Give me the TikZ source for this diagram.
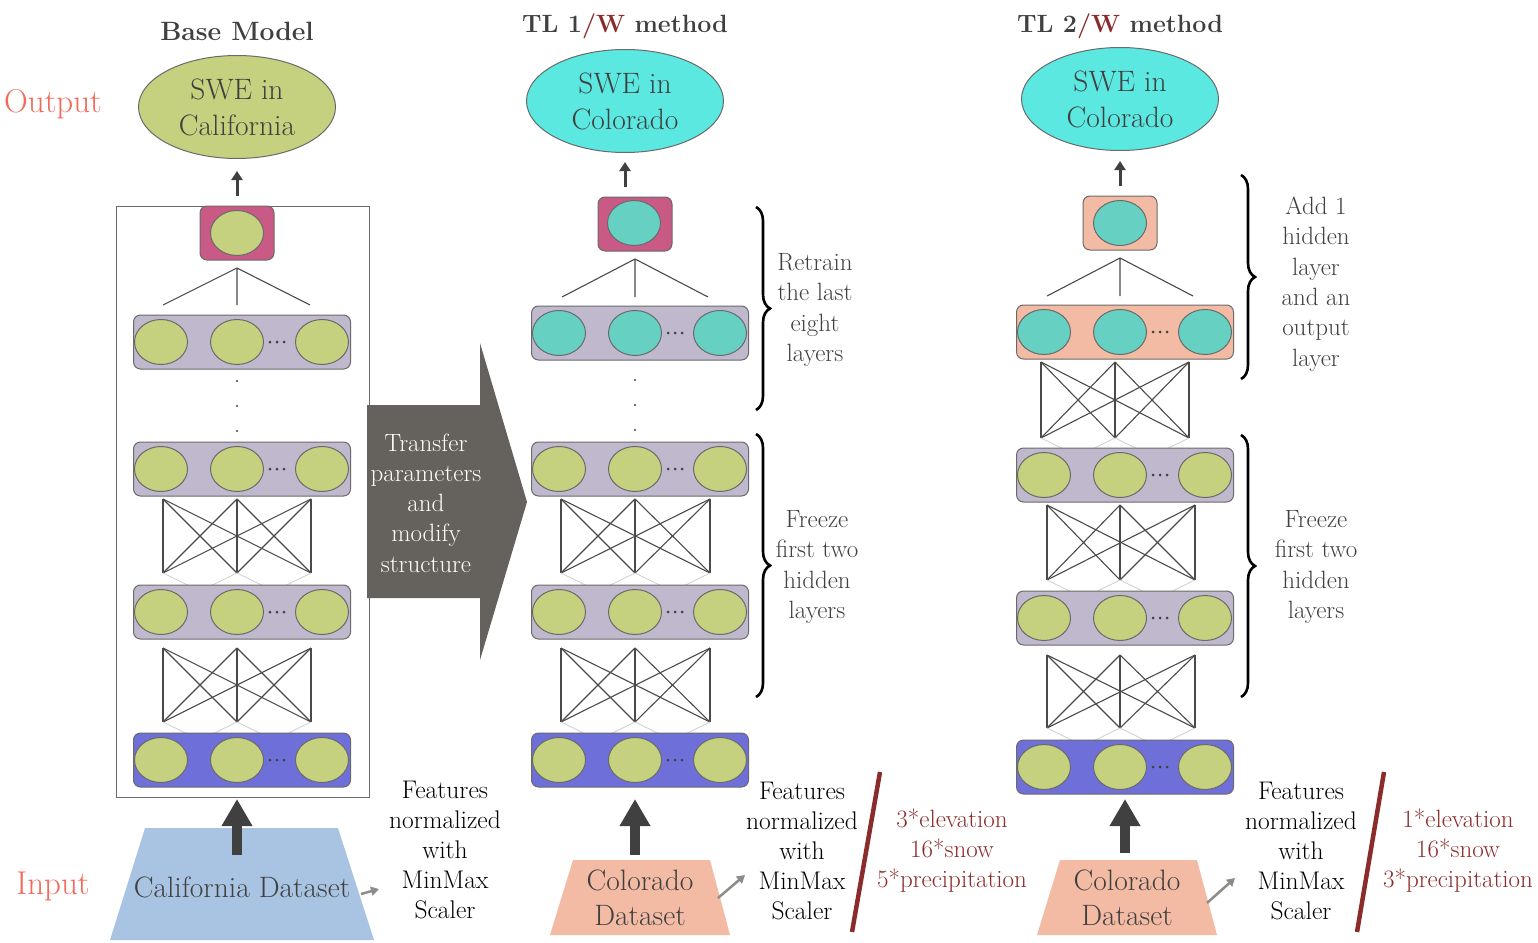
\documentclass[tikz,border=0pt]{standalone}
\usetikzlibrary{arrows.meta,shapes.geometric,decorations.pathreplacing,calc}
\definecolor{nngreen}{HTML}{C5D17E}
\definecolor{nnpurple}{HTML}{C0B8CD}
\definecolor{nnpink}{HTML}{C85A85}
\definecolor{nnblue}{HTML}{6F6FD9}
\definecolor{nnteal}{HTML}{66D1C2}
\definecolor{nncyan}{HTML}{5BE8E1}
\definecolor{nnsalmon}{HTML}{F3BBA4}
\definecolor{trapblue}{HTML}{A8C4E2}
\definecolor{textgray}{HTML}{404040}
\definecolor{edgegray}{HTML}{6A6A6A}
\definecolor{wiregray}{HTML}{4A4A4A}
\definecolor{transfergray}{HTML}{65625E}
\definecolor{outlabel}{HTML}{F26A5B}
\definecolor{darkred}{HTML}{8B2C2C}
\definecolor{smallgray}{HTML}{8C8C88}

\newcommand{\nnlayer}[5]{%
  \node[layerbox, fill=#4] (#1) at ({#2+5},#3) {};
  \node[neuron, fill=#5] (#1-a) at ({#2-76},#3) {};
  \node[neuron, fill=#5] (#1-b) at (#2,#3) {};
  \node[neuron, fill=#5] (#1-c) at ({#2+85},#3) {};
  \fill[textgray] ({#2+33},#3) circle[radius=1.5pt] ({#2+40},#3) circle[radius=1.5pt] ({#2+47},#3) circle[radius=1.5pt];
}
\newcommand{\nncross}[6]{%
  \coordinate (#1-t1) at (#2,#5); \coordinate (#1-t2) at (#3,#5); \coordinate (#1-t3) at (#4,#5);
  \coordinate (#1-b1) at (#2,#6); \coordinate (#1-b2) at (#3,#6); \coordinate (#1-b3) at (#4,#6);
  \foreach \i in {1,2,3}{\foreach \j in {1,2,3}{\draw[wire] (#1-t\i) -- (#1-b\j);}}
  \draw[faint] (#1-b1) -- ++(45,22) (#1-b2) -- ++(-45,22) (#1-b2) -- ++(45,22) (#1-b3) -- ++(-45,22);
}
\newcommand{\nnfan}[6]{%
  \coordinate (#1-top) at (#2,#3);
  \coordinate (#1-l) at (#5,#4); \coordinate (#1-m) at (#2,#4); \coordinate (#1-r) at (#6,#4);
  \draw[wire] (#1-l) -- (#1-top) -- (#1-r) (#1-top) -- (#1-m);
}
\newcommand{\vdotsat}[2]{%
  \fill[textgray] (#1,#2) circle[radius=1.2pt] (#1,{#2+25}) circle[radius=1.2pt] (#1,{#2+50}) circle[radius=1.2pt];
}

\begin{document}
\begin{tikzpicture}[x=1pt,y=-1pt,
  neuron/.style={ellipse, draw=edgegray, line width=1pt, minimum width=53pt, minimum height=45pt, inner sep=0pt},
  layerbox/.style={rectangle, rounded corners=7pt, draw=edgegray, line width=1pt, minimum width=217pt, minimum height=54pt, inner sep=0pt},
  outbox/.style={rectangle, rounded corners=7pt, draw=edgegray, line width=1pt, minimum width=74pt, minimum height=54pt, inner sep=0pt},
  wire/.style={draw=wiregray, line width=1.1pt},
  faint/.style={draw=gray!35, line width=0.9pt},
  bigell/.style={ellipse, draw=edgegray, line width=1pt, minimum width=197pt, minimum height=103pt, inner sep=0pt, text=textgray, font=\fontsize{29.5}{36}\selectfont, align=center},
  lbl/.style={font=\fontsize{25}{30.3}\selectfont, align=center, text=textgray, inner sep=0pt},
  blk/.style={font=\fontsize{25.5}{30}\selectfont, align=center, text=black, inner sep=0pt},
  redtxt/.style={font=\fontsize{25}{30}\selectfont, align=center, text=darkred, inner sep=0pt},
  ttl/.style={font=\fontsize{25}{30}\selectfont\bfseries, text=textgray, inner sep=0pt},
  side/.style={font=\fontsize{33}{36}\selectfont, text=outlabel, inner sep=0pt},
  dset/.style={font=\fontsize{29.5}{35}\selectfont, align=center, text=textgray, inner sep=0pt},
  smallup/.style={draw=textgray, line width=3pt, -{Triangle[width=11pt,length=9pt]}},
  bigup/.style={draw=textgray, line width=10pt, -{Triangle[width=29pt,length=27pt]}},
  grayarr/.style={draw=smallgray, line width=2.5pt, -{Triangle[width=9pt,length=8pt]}},
  slash/.style={draw=darkred, line width=4.5pt},
  bracestyle/.style={draw=black, line width=2.6pt, decorate, decoration={brace, amplitude=14pt}}
]
\useasboundingbox (0,0) rectangle (1538,942);

% ---------------- side labels
\node[side] (outlbl) at (53,104) {Output};
\node[side] (inlbl) at (53,886) {Input};

% ---------------- titles
\node[ttl, font=\fontsize{26.5}{30}\selectfont\bfseries] (t0) at (237,31) {Base Model};
\node[ttl] (t1) at (625,26) {TL 1\textcolor{darkred}{/W} method};
\node[ttl] (t2) at (1120,26) {TL 2\textcolor{darkred}{/W} method};

% ================= BASE MODEL
\draw[edgegray, line width=1pt] (116,206) rectangle (369,797);
\node[bigell, fill=nngreen] (e0) at (237,107) {SWE in\\California};
\coordinate (a0s) at (237,196); \coordinate (a0e) at (237,171);
\draw[smallup] (a0s) -- (a0e);
\node[outbox, fill=nnpink] (o0) at (237,233) {};
\node[neuron, fill=nngreen] (o0n) at (237,233) {};
\nnfan{f0}{237}{268}{305}{163}{310}
\nncross{c0a}{163}{237}{311}{499}{573}
\nncross{c0b}{163}{237}{311}{648}{722}
\nnlayer{l0a}{237}{342}{nnpurple}{nngreen}
\vdotsat{237}{381}
\nnlayer{l0b}{237}{469}{nnpurple}{nngreen}
\nnlayer{l0c}{237}{612}{nnpurple}{nngreen}
\nnlayer{l0d}{237}{760}{nnblue}{nngreen}

\fill[trapblue] (110,940) -- (145,828) -- (338,828) -- (374,940) -- cycle;
\node[dset] (d0) at (242,887) {California Dataset};
\coordinate (b0s) at (237,855); \coordinate (b0e) at (237,799);
\draw[bigup] (b0s) -- (b0e);
\coordinate (g0s) at (361,894); \coordinate (g0e) at (379,889);
\draw[grayarr] (g0s) -- (g0e);
\node[blk] (n0) at (445,850) {Features\\normalized\\with\\MinMax\\Scaler};

% transfer arrow
\fill[transfergray] (367,405) -- (480,405) -- (480,343) -- (527,502) -- (480,660) -- (480,598) -- (367,598) -- cycle;
\node[font=\fontsize{25}{30.3}\selectfont, align=center, text=white, inner sep=0pt] (tr) at (426,503) {Transfer\\parameters\\and\\modify\\structure};

% ================= TL 1
\node[bigell, fill=nncyan] (e1) at (625,101) {SWE in\\Colorado};
\coordinate (a1s) at (625,187); \coordinate (a1e) at (625,162);
\draw[smallup] (a1s) -- (a1e);
\node[outbox, fill=nnpink] (o1) at (635,224) {};
\node[neuron, fill=nnteal] (o1n) at (634,223) {};
\nnfan{f1}{635}{259}{297}{562}{708}
\nncross{c1a}{561}{635}{710}{499}{573}
\nncross{c1b}{561}{635}{710}{648}{722}
\nnlayer{l1a}{635}{333}{nnpurple}{nnteal}
\vdotsat{635}{380}
\nnlayer{l1b}{635}{469}{nnpurple}{nngreen}
\nnlayer{l1c}{635}{612}{nnpurple}{nngreen}
\nnlayer{l1d}{635}{760}{nnblue}{nngreen}

\coordinate (br1a-t) at (756,207); \coordinate (br1a-b) at (756,410);
\draw[bracestyle] (br1a-t) -- (br1a-b);
\coordinate (br1b-t) at (756,434); \coordinate (br1b-b) at (756,697);
\draw[bracestyle] (br1b-t) -- (br1b-b);
\node[lbl] (r1) at (815,310) {Retrain\\the last\\eight\\layers};
\node[lbl] (fz1) at (817,567) {Freeze\\first two\\hidden\\layers};

\fill[nnsalmon] (550,935) -- (573,860) -- (710,860) -- (730,935) -- cycle;
\node[dset] (d1) at (640,898) {Colorado\\Dataset};
\coordinate (b1s) at (635,855); \coordinate (b1e) at (635,799);
\draw[bigup] (b1s) -- (b1e);
\coordinate (g1s) at (718,898); \coordinate (g1e) at (745,875);
\draw[grayarr] (g1s) -- (g1e);
\node[blk] (n1) at (802,851) {Features\\normalized\\with\\MinMax\\Scaler};
\coordinate (s1t) at (880,772); \coordinate (s1b) at (852,932);
\draw[slash] (s1t) -- (s1b);
\node[redtxt] (v1) at (952,851) {3*elevation\\16*snow\\5*precipitation};

% ================= TL 2
\node[bigell, fill=nncyan] (e2) at (1120,99) {SWE in\\Colorado};
\coordinate (a2s) at (1120,186); \coordinate (a2e) at (1120,161);
\draw[smallup] (a2s) -- (a2e);
\node[outbox, fill=nnsalmon] (o2) at (1120,223) {};
\node[neuron, fill=nnteal] (o2n) at (1120,223) {};
\nnfan{f2}{1120}{258}{296}{1047}{1193}
\nncross{c2a}{1041}{1115}{1189}{362}{438}
\nncross{c2b}{1047}{1120}{1195}{505}{580}
\nncross{c2c}{1047}{1120}{1195}{655}{728}
\nnlayer{l2a}{1120}{332}{nnsalmon}{nnteal}
\nnlayer{l2b}{1120}{475}{nnpurple}{nngreen}
\nnlayer{l2c}{1120}{618}{nnpurple}{nngreen}
\nnlayer{l2d}{1120}{767}{nnblue}{nngreen}

\coordinate (br2a-t) at (1241,175); \coordinate (br2a-b) at (1241,379);
\draw[bracestyle] (br2a-t) -- (br2a-b);
\coordinate (br2b-t) at (1241,435); \coordinate (br2b-b) at (1241,697);
\draw[bracestyle] (br2b-t) -- (br2b-b);
\node[lbl] (r2) at (1316,284) {Add 1\\hidden\\layer\\and an\\output\\layer};
\node[lbl] (fz2) at (1316,567) {Freeze\\first two\\hidden\\layers};

\fill[nnsalmon] (1037,935) -- (1060,860) -- (1197,860) -- (1217,935) -- cycle;
\node[dset] (d2) at (1127,898) {Colorado\\Dataset};
\coordinate (b2s) at (1125,853); \coordinate (b2e) at (1125,799);
\draw[bigup] (b2s) -- (b2e);
\coordinate (g2s) at (1207,903); \coordinate (g2e) at (1235,878);
\draw[grayarr] (g2s) -- (g2e);
\node[blk] (n2) at (1301,851) {Features\\normalized\\with\\MinMax\\Scaler};
\coordinate (s2t) at (1384,772); \coordinate (s2b) at (1357,932);
\draw[slash] (s2t) -- (s2b);
\node[redtxt] (v2) at (1458,851) {1*elevation\\16*snow\\3*precipitation};
\end{tikzpicture}
\end{document}
